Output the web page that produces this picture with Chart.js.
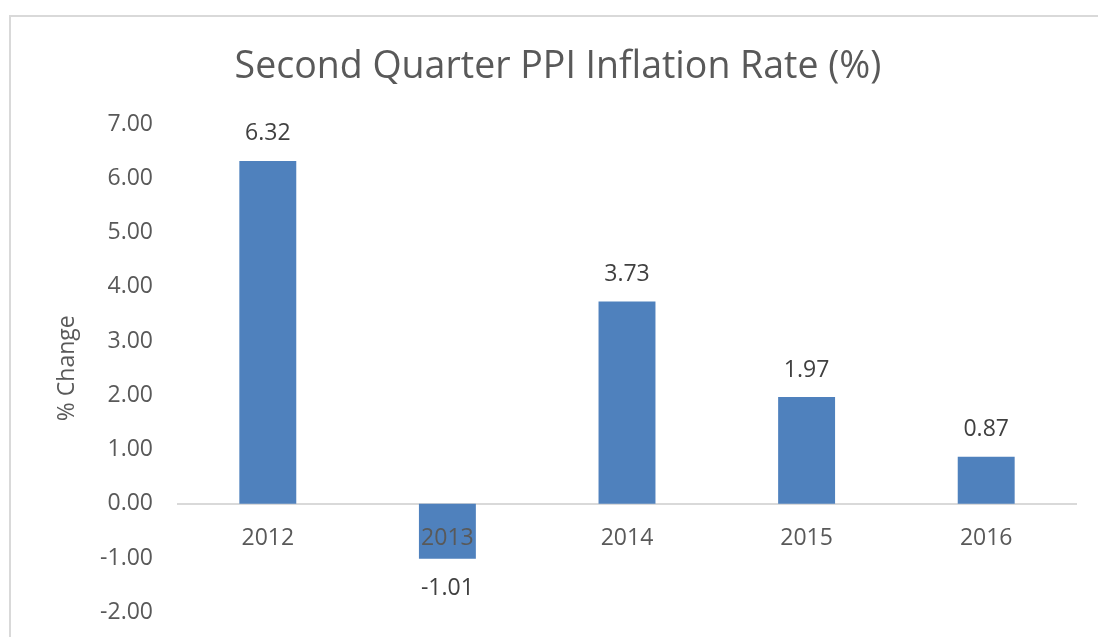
<!DOCTYPE html>
<html>
<head>
<meta charset="utf-8">
<script src="https://cdn.jsdelivr.net/npm/chart.js@4.4.1/dist/chart.umd.min.js"></script>
<style>
  html, body { margin: 0; padding: 0; background: #fff; }
  #wrap { position: relative; width: 1098px; height: 637px; overflow: hidden; }
  #frame {
    position: absolute; left: 9px; top: 15px; width: 1200px; height: 700px;
    border-top: 2px solid #d9d9d9; border-left: 2px solid #d9d9d9;
    pointer-events: none;
  }
  canvas { position: absolute; left: 0; top: 0; }
</style>
</head>
<body>
<div id="wrap">
  <div id="frame"></div>
  <canvas id="chart" width="1098" height="637"></canvas>
</div>
<script>
// ---- data ----
const years = ['2012', '2013', '2014', '2015', '2016'];
const ppiRates = [6.32, -1.01, 3.73, 1.97, 0.87];
const yMin = -2;
const yMax = 7;

const FONT = "'Open Sans', 'DejaVu Sans', sans-serif";

// value labels above / below each bar
const barLabels = {
  id: 'barLabels',
  afterDatasetsDraw(chart) {
    const { ctx } = chart;
    const meta = chart.getDatasetMeta(0);
    ctx.save();
    ctx.font = `23px ${FONT}`;
    ctx.fillStyle = '#404040';
    ctx.textAlign = 'center';
    ctx.textBaseline = 'middle';
    meta.data.forEach((bar, i) => {
      const v = ppiRates[i];
      const y = v >= 0 ? bar.y - 27 : bar.y + 30;
      ctx.fillText(v.toFixed(2), bar.x, y);
    });
    ctx.restore();
  }
};

new Chart(document.getElementById('chart'), {
  type: 'bar',
  data: {
    labels: years,
    datasets: [{
      data: ppiRates,
      backgroundColor: '#4f81bd',
      borderWidth: 0,
      categoryPercentage: 1,
      barPercentage: 0.317
    }]
  },
  options: {
    responsive: false,
    animation: false,
    layout: { padding: { left: 40, top: 20, right: 22, bottom: 24.6 } },
    plugins: {
      legend: { display: false },
      tooltip: { enabled: false },
      title: {
        display: true,
        text: 'Second Quarter PPI Inflation Rate (%)',
        color: '#595959',
        font: { family: FONT, size: 37.5, weight: 'normal' },
        padding: { top: 25, bottom: 34 }
      }
    },
    scales: {
      x: {
        position: { y: 0 },
        afterFit(scale) { scale.height = 0; },
        grid: { display: false, drawTicks: false },
        border: { display: true, color: '#d9d9d9', width: 2 },
        ticks: {
          z: 1,
          color: '#595959',
          padding: 21,
          font: { family: FONT, size: 23 }
        }
      },
      y: {
        min: yMin,
        max: yMax,
        grid: { display: false, drawTicks: false },
        border: { display: false },
        afterFit(scale) {
          scale.width = 138;
          // tick padding is horizontal here; don't let it eat vertical room
          scale.paddingTop = 14;
          scale.paddingBottom = 14;
        },
        ticks: {
          stepSize: 1,
          padding: 25,
          color: '#595959',
          font: { family: FONT, size: 23 },
          callback: v => Number(v).toFixed(2)
        },
        title: {
          display: true,
          text: '% Change',
          color: '#595959',
          padding: { top: 14, bottom: 4 },
          font: { family: FONT, size: 23 }
        }
      }
    }
  },
  plugins: [barLabels]
});
</script>
</body>
</html>
